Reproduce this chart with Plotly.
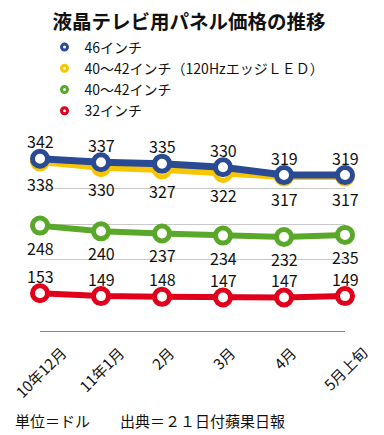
import plotly.graph_objects as go

categories = ["10年12月", "11年1月", "2月", "3月", "4月", "5月上旬"]
s46 = [342, 337, 335, 330, 319, 319]
s40led = [338, 330, 327, 322, 317, 317]
s40 = [248, 240, 237, 234, 232, 235]
s32 = [153, 149, 148, 147, 147, 149]

names = ["46インチ", "40〜42インチ（120HzエッジＬＥＤ）", "40〜42インチ", "32インチ"]
colors = ["#2b4a94", "#f7c600", "#5aa82a", "#e0001b"]

FONT = "Noto Sans CJK JP"
xs = list(range(len(categories)))

# page body has an 8px margin: figure is 8px smaller and all positions are offset
W, H = 376, 427
L, R, T, B = 32, 39, 145, 104
pw, ph = W - L - R, H - T - B

fig = go.Figure()

def add_series(vals, color, width, shift):
    fig.add_trace(go.Scatter(
        x=xs, y=vals, mode="lines+markers",
        line=dict(color=color, width=width),
        marker=dict(size=15, color="white", line=dict(color=color, width=5)),
        cliponaxis=False, showlegend=False, hoverinfo="skip"))
    for xi, v in zip(xs, vals):
        fig.add_annotation(x=xi, y=v, xref="x", yref="y", text=str(v),
                           showarrow=False, yshift=shift, xanchor="center",
                           yanchor="middle",
                           font=dict(family=FONT, size=16, color="#111111"))

# draw order: yellow under blue
add_series(s40led, colors[1], 7, -22)
add_series(s46, colors[0], 7, 17.5)
add_series(s40, colors[2], 6, -22)
add_series(s32, colors[3], 6, 17.5)

for n, c in zip(names, colors):
    fig.add_trace(go.Scatter(
        x=[None], y=[None], mode="markers", name=n,
        marker=dict(size=6, color="white", line=dict(color=c, width=3)),
        showlegend=True))

for i, cat in enumerate(categories):
    fig.add_annotation(x=i, y=-0.05, xref="x", yref="paper", text=cat,
                       showarrow=False, textangle=-45, xanchor="center",
                       yanchor="top", font=dict(family=FONT, size=15, color="#111111"))

def px_x(x):
    return (x - L) / pw

def px_y(y):
    return (H - B - y) / ph

fig.add_annotation(x=px_x(5), y=px_y(412), xref="paper", yref="paper", text="単位＝ドル",
                   showarrow=False, xanchor="left", yanchor="middle",
                   font=dict(family=FONT, size=15, color="#111111"))
fig.add_annotation(x=px_x(110), y=px_y(412), xref="paper", yref="paper",
                   text="出典＝２１日付蘋果日報",
                   showarrow=False, xanchor="left", yanchor="middle",
                   font=dict(family=FONT, size=15, color="#111111"))

fig.update_layout(
    width=W, height=H,
    margin=dict(l=L, r=R, t=T, b=B, pad=0, autoexpand=False),
    paper_bgcolor="white", plot_bgcolor="white",
    title=dict(text="<b>液晶テレビ用パネル価格の推移</b>", x=181 / W, xanchor="center",
               y=1 - 14 / H, yanchor="middle",
               font=dict(family=FONT, size=19.5, color="#111111")),
    legend=dict(x=px_x(36.5), xanchor="left", y=px_y(23.5), yanchor="top",
                font=dict(family=FONT, size=14, color="#111111"),
                bgcolor="rgba(0,0,0,0)", tracegroupgap=0, itemclick=False),
    xaxis=dict(range=[0, 5], showticklabels=False, showgrid=False, zeroline=False,
               showline=True, linecolor="#7b8899", linewidth=1, ticks=""),
    yaxis=dict(range=[100, 350], dtick=50, tick0=100, showticklabels=False,
               showgrid=True, gridcolor="#c8c8c8", gridwidth=1, zeroline=False,
               showline=False, ticks=""),
    showlegend=True,
)

fig.write_html("out.html")
